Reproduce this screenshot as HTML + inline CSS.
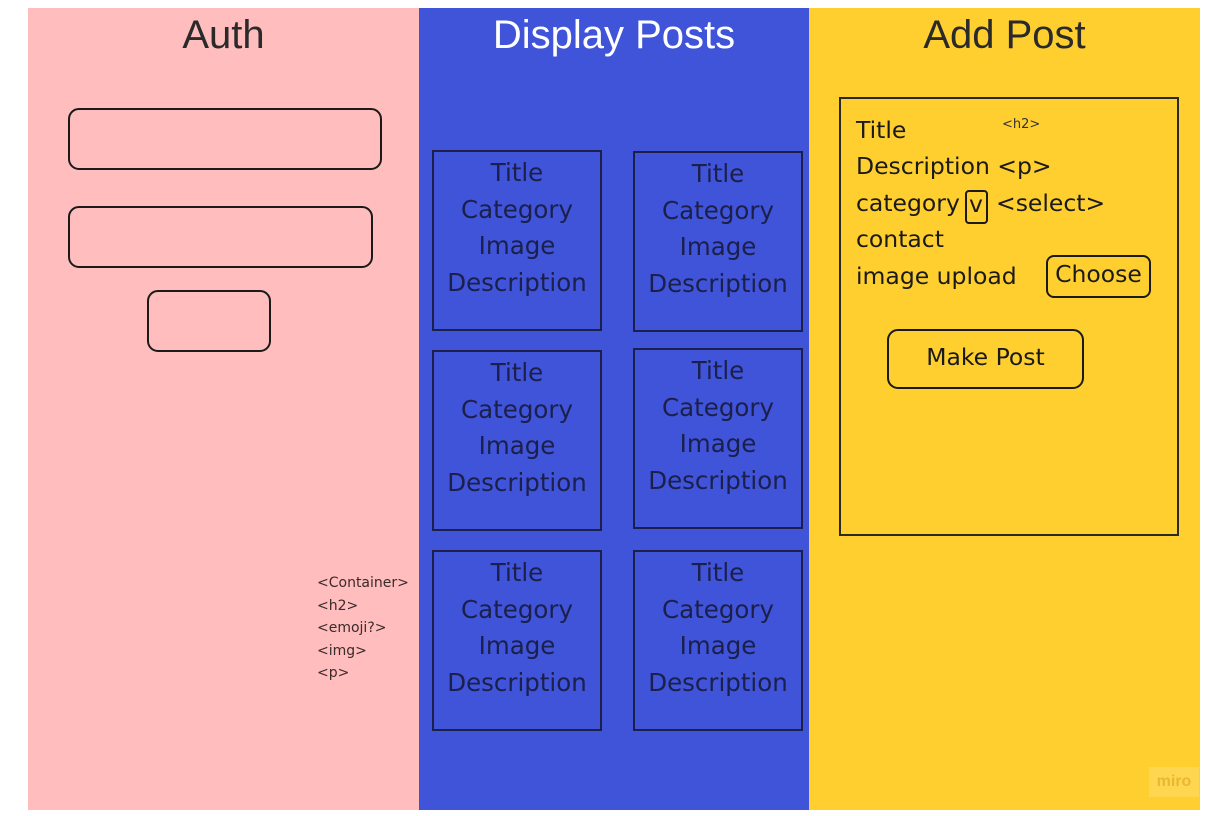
<!DOCTYPE html>
<html><head><meta charset="utf-8"><style>
body{margin:0;width:1224px;height:816px;background:#fff;position:relative;overflow:hidden;font-family:"Liberation Sans","DejaVu Sans",sans-serif}
div{position:absolute;box-sizing:border-box}
.h{font-size:40px;color:#2a2a2a;text-align:center;width:391px;top:13px}
.rb{border:2px solid #1a1a1a;border-radius:11px}
.card{border:2px solid #1b1f4a;width:170px;height:181px;text-align:center;color:#1b1f4a;font-family:"DejaVu Sans",sans-serif;font-size:24.5px;line-height:36.7px;padding-top:3px;white-space:nowrap}
.t{font-family:"DejaVu Sans",sans-serif;font-size:23.5px;color:#1a1a1a;white-space:nowrap}
</style></head><body>
<div style="left:28px;top:8px;width:391px;height:802px;background:#ffbdbd"></div>
<div style="left:419px;top:8px;width:390px;height:802px;background:#3f54d9"></div>
<div style="left:809px;top:8px;width:391px;height:802px;background:#ffcf30"></div>
<div class="h" style="left:28px">Auth</div>
<div class="h" style="left:419px;color:#fff;width:390px">Display Posts</div>
<div class="h" style="left:809px">Add Post</div>
<div class="rb" style="left:68px;top:108px;width:314px;height:62px"></div>
<div class="rb" style="left:68px;top:206px;width:305px;height:62px"></div>
<div class="rb" style="left:147px;top:290px;width:124px;height:62px"></div>
<div style="left:317px;top:572px;font-family:'DejaVu Sans',sans-serif;font-size:14px;line-height:22.5px;color:#3a2a2a">&lt;Container&gt;<br>&lt;h2&gt;<br>&lt;emoji?&gt;<br>&lt;img&gt;<br>&lt;p&gt;</div>
<div class="card" style="left:432px;top:150px">Title<br>Category<br>Image<br>Description</div>
<div class="card" style="left:633px;top:151px">Title<br>Category<br>Image<br>Description</div>
<div class="card" style="left:432px;top:350px">Title<br>Category<br>Image<br>Description</div>
<div class="card" style="left:633px;top:348px">Title<br>Category<br>Image<br>Description</div>
<div class="card" style="left:432px;top:550px">Title<br>Category<br>Image<br>Description</div>
<div class="card" style="left:633px;top:550px">Title<br>Category<br>Image<br>Description</div>
<div style="left:839px;top:97px;width:340px;height:439px;border:2px solid #2a2a2a"></div>
<div class="t" style="left:856px;top:116px">Title</div>
<div style="left:1002px;top:117px;font-family:'DejaVu Sans',sans-serif;font-size:13px;color:#333">&lt;h2&gt;</div>
<div class="t" style="left:856px;top:152px">Description &lt;p&gt;</div>
<div class="t" style="left:856px;top:189px">category</div>
<div style="left:965px;top:190px;width:23px;height:34px;border:2px solid #1a1a1a;border-radius:4px"></div>
<div class="t" style="left:969px;top:190px">v</div>
<div class="t" style="left:996px;top:189px">&lt;select&gt;</div>
<div class="t" style="left:856px;top:225px">contact</div>
<div class="t" style="left:856px;top:262px">image upload</div>
<div class="rb" style="left:1046px;top:255px;width:105px;height:43px;border-radius:8px"></div>
<div class="t" style="left:1046px;top:260px;width:105px;text-align:center">Choose</div>
<div class="rb" style="left:887px;top:329px;width:197px;height:60px"></div>
<div class="t" style="left:887px;top:343px;width:197px;text-align:center">Make Post</div>
<div style="left:1149px;top:767px;width:50px;height:30px;background:#ffd650;color:#e8b830;font-size:16px;font-weight:bold;text-align:center;line-height:30px">miro</div>
</body></html>
